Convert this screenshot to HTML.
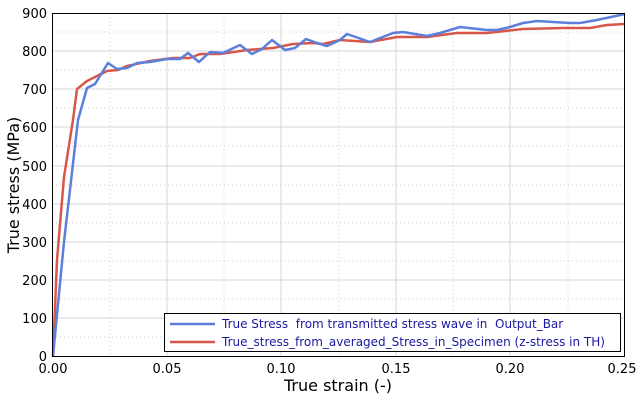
<!DOCTYPE html>
<html><head><style>body{margin:0;background:#fff}svg{display:block;font-family:"DejaVu Sans","Liberation Sans",sans-serif}</style></head><body>
<svg width="640" height="400" viewBox="0 0 640 400">
<g stroke="#ccc" stroke-width="1" stroke-dasharray="1,3">
<line x1="110" y1="13" x2="110" y2="356"/><line x1="224" y1="13" x2="224" y2="356"/><line x1="339" y1="13" x2="339" y2="356"/><line x1="453" y1="13" x2="453" y2="356"/><line x1="568" y1="13" x2="568" y2="356"/>
<line x1="52" y1="337" x2="625" y2="337"/><line x1="52" y1="299" x2="625" y2="299"/><line x1="52" y1="261" x2="625" y2="261"/><line x1="52" y1="223" x2="625" y2="223"/><line x1="52" y1="185" x2="625" y2="185"/><line x1="52" y1="146" x2="625" y2="146"/><line x1="52" y1="108" x2="625" y2="108"/><line x1="52" y1="70" x2="625" y2="70"/><line x1="52" y1="32" x2="625" y2="32"/>
</g>
<g stroke="#d4d4d4" stroke-width="1">
<line x1="167" y1="13" x2="167" y2="356"/><line x1="281" y1="13" x2="281" y2="356"/><line x1="396" y1="13" x2="396" y2="356"/><line x1="510" y1="13" x2="510" y2="356"/>
<line x1="52" y1="318" x2="625" y2="318"/><line x1="52" y1="280" x2="625" y2="280"/><line x1="52" y1="242" x2="625" y2="242"/><line x1="52" y1="204" x2="625" y2="204"/><line x1="52" y1="166" x2="625" y2="166"/><line x1="52" y1="127" x2="625" y2="127"/><line x1="52" y1="89" x2="625" y2="89"/><line x1="52" y1="51" x2="625" y2="51"/>
</g>
<polyline fill="none" stroke="#d9574a" stroke-width="2.5" stroke-linejoin="round" points="53,356 57,260 64,177 73,120 77,89 87,81 107,71 118,70 127,66 150,61 173,58 190,58 200,54 220,54 247,50 273,48 293,44 313,43 323,44 340,40 370,42 397,37 427,37 457,33 487,33 523,29 563,28 590,28 607,25 625,24"/>
<polyline fill="none" stroke="#5b7fdb" stroke-width="2.5" stroke-linejoin="round" points="53,356 64,242 78,120 87,88 95,84 108,63 117,69 127,68 137,63 150,62 167,59 180,59 188,53 199,62 210,52 223,53 240,45 252,54 262,49 272,40 285,50 295,48 306,39 317,43 327,46 340,40 347,34 370,42 393,33 403,32 427,36 440,33 460,27 487,30 497,30 510,27 523,23 537,21 553,22 570,23 580,23 597,20 625,14"/>
<rect x="52.5" y="13.5" width="572" height="343" fill="none" stroke="#000" stroke-width="1"/>
<g font-size="13" fill="#000" text-anchor="end">
<text x="47" y="361">0</text><text x="47" y="323">100</text><text x="47" y="285">200</text><text x="47" y="247">300</text><text x="47" y="209">400</text><text x="47" y="171">500</text><text x="47" y="132">600</text><text x="47" y="94">700</text><text x="47" y="56">800</text><text x="47" y="18">900</text>
</g>
<g font-size="13" fill="#000" text-anchor="middle">
<text x="53" y="373">0.00</text><text x="167" y="373">0.05</text><text x="281" y="373">0.10</text><text x="396" y="373">0.15</text><text x="510" y="373">0.20</text><text x="622" y="373">0.25</text>
<text x="338" y="391" font-size="16">True strain (-)</text>
<text transform="translate(19,185) rotate(-90)" font-size="16">True stress (MPa)</text>
</g>
<rect x="164.5" y="313.5" width="456" height="38" fill="#fff" stroke="#000"/>
<line x1="170" y1="324" x2="215" y2="324" stroke="#5b7fdb" stroke-width="2.5"/>
<line x1="170" y1="342" x2="215" y2="342" stroke="#d9574a" stroke-width="2.5"/>
<g font-size="12" fill="#1a1aa0">
<text x="222" y="328" xml:space="preserve">True Stress  from transmitted stress wave in  Output_Bar</text>
<text x="222" y="346">True_stress_from_averaged_Stress_in_Specimen (z-stress in TH)</text>
</g>
</svg>
</body></html>
